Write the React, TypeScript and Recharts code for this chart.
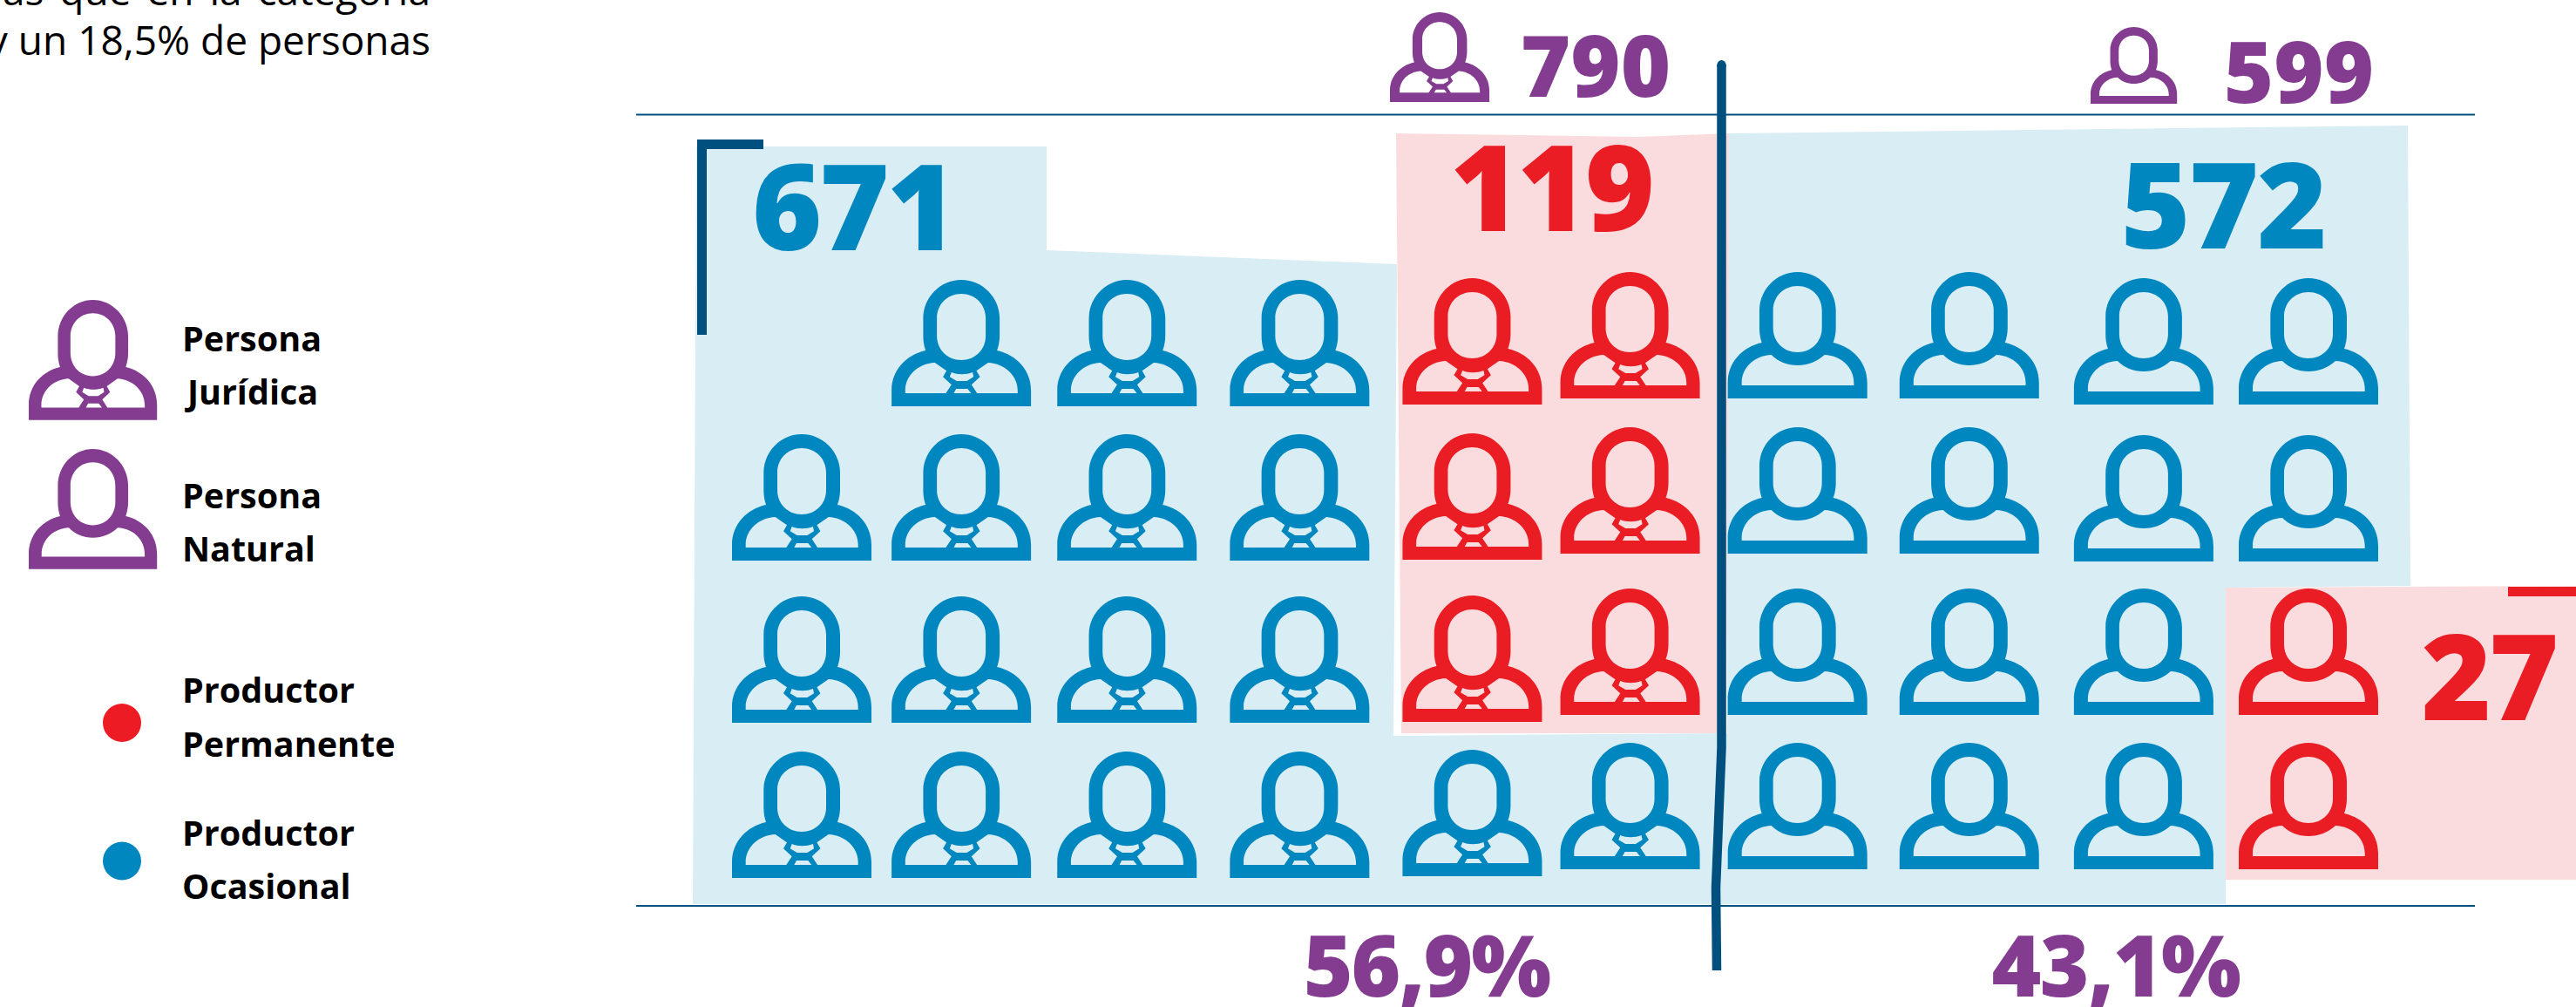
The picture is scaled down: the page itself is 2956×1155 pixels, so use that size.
import React from 'react';
import { ScatterChart, Scatter, XAxis, YAxis, Customized } from 'recharts';

// ---- data ----
const producerTypes = ['Productor Permanente', 'Productor Ocasional'];
const personTypes = ['Persona Jurídica', 'Persona Natural'];
const totals = [790, 599];
const shares = ['56,9%', '43,1%'];
const permanent = [119, 27];
const occasional = [671, 572];

// one icon per grid cell: [column, row]
const juridicaOcasionalCells = [
  [1, 0], [2, 0], [3, 0],
  [0, 1], [1, 1], [2, 1], [3, 1],
  [0, 2], [1, 2], [2, 2], [3, 2],
  [0, 3], [1, 3], [2, 3], [3, 3], [4, 3], [5, 3],
];
const juridicaPermanenteCells = [[4, 0], [5, 0], [4, 1], [5, 1], [4, 2], [5, 2]];
const naturalOcasionalCells = [
  [6, 0], [7, 0], [8, 0], [9, 0],
  [6, 1], [7, 1], [8, 1], [9, 1],
  [6, 2], [7, 2], [8, 2],
  [6, 3], [7, 3], [8, 3],
];
const naturalPermanenteCells = [[9, 2], [9, 3]];

const toPoints = (cells: number[][]) => cells.map(([col, row]) => ({ col, row }));

// ---- layout ----
const W = 2956;
const H = 1155;
const BLUE = '#0087c0';
const RED = '#ea1d25';
const PURPLE = '#833c90';
const DARK = '#00507f';
const PALE_BLUE = '#d9edf4';
const PALE_RED = '#fbdcde';
const FONT = '"Open Sans", sans-serif';

// the original icons are hand placed, slightly off a regular grid
const NUDGE_X = [0, -9, -11, -5, 1, -10, -10, -5, 3, 0];
const NUDGE_Y = [
  [0, -3, 3, 1],
  [0, -3, 3, 1],
  [0, -3, 3, 1],
  [0, -3, 3, 1],
  [-2, -4, 2, -1],
  [-9, -11, -6, -9],
  [-9, -11, -6, -9],
  [-9, -11, -6, -9],
  [-2, -2, -6, -9],
  [-2, -2, -6, -9],
];

const OUTER =
  'M0,145 L0,127 C0,103 17,86 39,81 C37,75 36.3,70 36.3,64 L36.3,44 C36.3,20 56,0 80,0 C104,0 124,20 124,44 L124,64 C124,70 123,75 121,81 C143,86 160,103 160,127 L160,145 Z ';
const FACE =
  'M52,44 C52,28 64,16 80,16 C96,16 108,28 108,44 L108,64 C108,80 96,92 80,92 C64,92 52,80 52,64 Z ';
const PLAIN_BODY =
  'M16,130 L16,127 C16,110 30,96 50,95 C58,103 68,107 80,107 C92,107 102,103 111,95 C131,96 144.7,110 144.7,127 L144.7,130 Z';
const TIE_BODY =
  'M15.7,130 L15.7,127 C15.7,110 30,96 49.7,95 L63,104.3 L59,111.3 L68.7,120.3 L62.3,130 Z ' +
  'M144.7,130 L144.7,127 C144.7,110 130,96 110.7,95 L97.4,104.3 L101.4,111.3 L91.7,120.3 L98.1,130 Z ' +
  'M68.7,106 C76,109 85,109 93,106 L94,111.3 L86.3,116 L74.7,116 L66.7,111.3 Z ' +
  'M74,125 L87.3,125 L91.3,130 L71.3,130 Z';
const TIE_ICON = OUTER + FACE + TIE_BODY;
const PLAIN_ICON = OUTER + FACE + PLAIN_BODY;

const gridIcon = (d: string, fill: string) => (props: any) => {
  const { cx, cy, payload } = props;
  const x = cx + NUDGE_X[payload.col] - 80;
  const y = cy + NUDGE_Y[payload.col][payload.row] - 72.5;
  return <path d={d} fill={fill} fillRule="evenodd" transform={`translate(${x},${y})`} />;
};

const T = ({ x, y, size, fill = '#000', weight = 700, anchor = 'start', spacing = 0, wordSpacing = 0, children }: any) => (
  <text
    x={x}
    y={y}
    fontSize={size}
    fill={fill}
    fontWeight={weight}
    textAnchor={anchor}
    fontFamily={FONT}
    letterSpacing={spacing}
    wordSpacing={wordSpacing}
  >
    {children}
  </text>
);

const Backdrop = () => (
  <g>
    <path
      d="M799,168 L1201,168 L1201,287 L1603,303 L1599,844 L1982,841 L1982,153 L2763,144 L2766,672 L2554,674 L2554,1037 L795,1037 Z"
      fill={PALE_BLUE}
    />
    <path d="M1602,153 L1880,157 L1984,153 L1984,250 L1981,841 L1608,841 Z" fill={PALE_RED} />
    <path d="M2554,674 L2956,672 L2956,1009 L2554,1009 Z" fill={PALE_RED} />
  </g>
);

const Annotations = () => {
  const [persJur, persNat] = personTypes.map((s) => s.split(' '));
  const [prodPerm, prodOca] = producerTypes.map((s) => s.split(' '));
  return (
    <g>
      <line x1={730} x2={2840} y1={131.5} y2={131.5} stroke={DARK} strokeWidth={2} />
      <line x1={730} x2={2840} y1={1039} y2={1039} stroke={DARK} strokeWidth={2} />
      <path d="M800,384 L800,160 L876,160 L876,171 L811,171 L811,384 Z" fill={DARK} />
      <path
        d="M1975.5,74 L1975.5,858 L1969,1018 L1970,1113"
        fill="none"
        stroke={DARK}
        strokeWidth={10.5}
      />
      <ellipse cx={1975.5} cy={75} rx={5.25} ry={6} fill={DARK} />
      <rect x={2878} y={673} width={78} height={11} fill={RED} />

      <T x={494} y={6} size={46} weight={400} anchor="end" wordSpacing={6}>as que en la categoría</T>
      <T x={494} y={63} size={46} weight={400} anchor="end">y un 18,5% de personas</T>

      <T x={979} y={287} size={137} weight={800} fill={BLUE} anchor="middle" spacing={-3}>{occasional[0]}</T>
      <T x={1780} y={265} size={137} weight={800} fill={RED} anchor="middle" spacing={-3}>{permanent[0]}</T>
      <T x={2551} y={285} size={137} weight={800} fill={BLUE} anchor="middle" spacing={-2}>{occasional[1]}</T>
      <T x={2856} y={826} size={137} weight={800} fill={RED} anchor="middle" spacing={-3}>{permanent[1]}</T>

      <T x={1831} y={111} size={98} weight={800} fill={PURPLE} anchor="middle">{totals[0]}</T>
      <T x={2638} y={118} size={98} weight={800} fill={PURPLE} anchor="middle">{totals[1]}</T>
      <T x={1637} y={1143} size={97} weight={800} fill={PURPLE} anchor="middle" spacing={-2}>{shares[0]}</T>
      <T x={2428} y={1143} size={97} weight={800} fill={PURPLE} anchor="middle" spacing={-1.5}>{shares[1]}</T>

      <path d={TIE_ICON} fill={PURPLE} fillRule="evenodd" transform="translate(1595,14) scale(0.713,0.71)" />
      <path d={PLAIN_ICON} fill={PURPLE} fillRule="evenodd" transform="translate(2399,31) scale(0.62,0.607)" />

      <path d={TIE_ICON} fill={PURPLE} fillRule="evenodd" transform="translate(33,344) scale(0.92,0.95)" />
      <path d={PLAIN_ICON} fill={PURPLE} fillRule="evenodd" transform="translate(33,515) scale(0.92,0.95)" />

      <T x={289} y={403} size={39.5} anchor="middle">{persJur[0]}</T>
      <T x={290} y={464} size={39.5} anchor="middle">{persJur[1]}</T>
      <T x={209} y={583} size={39.5}>{persNat[0]}</T>
      <T x={209} y={644} size={39.5}>{persNat[1]}</T>

      <ellipse cx={140} cy={829} rx={22} ry={22} fill="#ed1c24" />
      <T x={209} y={806} size={39.5}>{prodPerm[0]}</T>
      <T x={209} y={867.5} size={39.5}>{prodPerm[1]}</T>

      <ellipse cx={140} cy={987.5} rx={22} ry={22} fill={BLUE} />
      <T x={209} y={970} size={39.5}>{prodOca[0]}</T>
      <T x={209} y={1030.5} size={39.5}>{prodOca[1]}</T>
    </g>
  );
};

export default function App() {
  return (
    <div style={{ position: 'absolute', left: 0, top: 0, width: W, height: H, overflow: 'hidden', background: '#fff' }}>
      <ScatterChart
        width={W}
        height={H}
        margin={{ left: 920, right: W - 2649, top: 393.5, bottom: H - 933.5 }}
      >
        <XAxis type="number" dataKey="col" domain={[0, 9]} hide />
        <YAxis type="number" dataKey="row" domain={[0, 3]} reversed hide />
        <Customized component={Backdrop} />
        <Scatter
          name="Jurídica ocasional"
          data={toPoints(juridicaOcasionalCells)}
          shape={gridIcon(TIE_ICON, BLUE)}
          isAnimationActive={false}
        />
        <Scatter
          name="Jurídica permanente"
          data={toPoints(juridicaPermanenteCells)}
          shape={gridIcon(TIE_ICON, RED)}
          isAnimationActive={false}
        />
        <Scatter
          name="Natural ocasional"
          data={toPoints(naturalOcasionalCells)}
          shape={gridIcon(PLAIN_ICON, BLUE)}
          isAnimationActive={false}
        />
        <Scatter
          name="Natural permanente"
          data={toPoints(naturalPermanenteCells)}
          shape={gridIcon(PLAIN_ICON, RED)}
          isAnimationActive={false}
        />
        <Customized component={Annotations} />
      </ScatterChart>
    </div>
  );
}
